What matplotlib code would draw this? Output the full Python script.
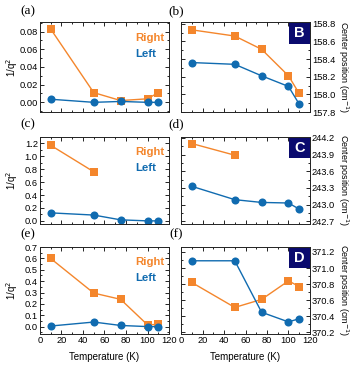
import matplotlib
matplotlib.use("Agg")
import matplotlib.pyplot as plt
from matplotlib.ticker import MultipleLocator, FormatStrFormatter
from matplotlib.patches import Rectangle

temps = [10, 50, 75, 100, 110]

a_right = [0.083, 0.011, 0.002, 0.004, 0.011]
a_left = [0.0035, 0.0, 0.001, 0.0, 0.0]
b_right = [158.73, 158.66, 158.51, 158.21, 158.01]
b_left = [158.36, 158.34, 158.21, 158.09, 157.89]

c_temps_right = [10, 50]
c_right = [1.17, 0.76]
c_left = [0.124, 0.09, 0.016, 0.0, 0.0]
d_right = [244.10, 243.89]
d_left = [243.33, 243.09, 243.04, 243.03, 242.92]

e_right = [0.60, 0.295, 0.24, 0.015, 0.02]
e_left = [0.005, 0.04, 0.01, 0.0, 0.0]
f_right = [370.82, 370.51, 370.61, 370.84, 370.77]
f_left = [371.09, 371.09, 370.45, 370.33, 370.37]

ORANGE = "#F4862C"
BLUE = "#106BB0"
NAVY = "#0A0A6E"

plt.rcParams['font.family'] = ['Liberation Sans', 'DejaVu Sans']
fig = plt.figure(figsize=(3.53, 3.65), dpi=100)

rows = [(0.693, 0.940), (0.386, 0.625), (0.085, 0.323)]
cols = [(0.113, 0.479), (0.513, 0.878)]

left_data = [
    (temps, a_right, temps, a_left, (-0.011, 0.091), 0.02, 0.01, "%.2f", "(a)"),
    (c_temps_right, c_right, temps, c_left, (-0.05, 1.30), 0.2, 0.1, "%.1f", "(c)"),
    (temps, e_right, temps, e_left, (-0.065, 0.70), 0.1, 0.05, "%.1f", "(e)"),
]
right_data = [
    (temps, b_right, temps, b_left, (157.80, 158.82), 0.2, 0.1, "%.1f", "(b)", "B"),
    (c_temps_right, d_right, temps, d_left, (242.65, 244.22), 0.3, 0.15, "%.1f", "(d)", "C"),
    (temps, f_right, temps, f_left, (370.18, 371.26), 0.2, 0.1, "%.1f", "(f)", "D"),
]

def style(ax, ylim, major, minor, fmt, right=False, bottom_labels=False):
    ax.set_xlim(0, 120)
    ax.set_ylim(*ylim)
    ax.xaxis.set_major_locator(MultipleLocator(20))
    ax.xaxis.set_minor_locator(MultipleLocator(10))
    ax.yaxis.set_major_locator(MultipleLocator(major))
    ax.yaxis.set_minor_locator(MultipleLocator(minor))
    ax.yaxis.set_major_formatter(FormatStrFormatter(fmt))
    ax.tick_params(which='both', direction='in', top=True, right=True, left=True, bottom=True,
                   labelsize=6.7, pad=1.5, width=0.6)
    ax.tick_params(which='major', length=3)
    ax.tick_params(which='minor', length=1.6)
    if right:
        ax.tick_params(labelleft=False, labelright=True)
    ax.tick_params(labelbottom=bottom_labels)
    for s in ax.spines.values():
        s.set_linewidth(0.7)
        s.set_color('#222222')

for i, (bot, top) in enumerate(rows):
    # left column
    xr, yr, xl, yl, ylim, mj, mn, fmt, lab = left_data[i]
    ax = fig.add_axes([cols[0][0], bot, cols[0][1] - cols[0][0], top - bot])
    ax.plot(xr, yr, '-s', color=ORANGE, ms=5.2, lw=1.0, mew=0)
    ax.plot(xl, yl, '-o', color=BLUE, ms=5.8, lw=1.0, mew=0)
    style(ax, ylim, mj, mn, fmt, right=False, bottom_labels=(i == 2))
    ax.set_ylabel("1/q$^2$", fontsize=7, va='center')
    ax.yaxis.set_label_coords(-0.215, 0.5)
    ax.text(0.736, 0.79, "Right", color=ORANGE, fontsize=8.2, fontweight='bold',
            transform=ax.transAxes, ha='left', va='baseline')
    ax.text(0.736, 0.61, "Left", color=BLUE, fontsize=8.2, fontweight='bold',
            transform=ax.transAxes, ha='left', va='baseline')
    if i == 2:
        ax.set_xlabel("Temperature (K)", fontsize=7, labelpad=5)
    # right column
    xr, yr, xl, yl, ylim, mj, mn, fmt, lab2, box = right_data[i]
    ax2 = fig.add_axes([cols[1][0], bot, cols[1][1] - cols[1][0], top - bot])
    ax2.plot(xr, yr, '-s', color=ORANGE, ms=5.2, lw=1.0, mew=0)
    ax2.plot(xl, yl, '-o', color=BLUE, ms=5.8, lw=1.0, mew=0)
    style(ax2, ylim, mj, mn, fmt, right=True, bottom_labels=(i == 2))
    ax2.yaxis.set_label_position('right')
    ax2.set_ylabel("Center position (cm$^{-1}$)", fontsize=6.5, rotation=270, va='center')
    ax2.yaxis.set_label_coords(1.255, 0.5)
    ax2.add_patch(Rectangle((0.835, 0.76), 0.165, 0.225, transform=ax2.transAxes,
                            facecolor=NAVY, edgecolor='none', zorder=5))
    ax2.text(0.9175, 0.872, box, color='white', fontsize=10.5, fontweight='bold',
             transform=ax2.transAxes, ha='center', va='center', zorder=6)
    if i == 2:
        ax2.set_xlabel("Temperature (K)", fontsize=7, labelpad=5)
    # panel labels
    ytxt = top + (0.029 if i == 0 else 0.035)
    fig.text(28 / 353, ytxt, lab, family='Liberation Serif', fontsize=9.5, ha='center', va='center')
    fig.text(176 / 353, ytxt, lab2, family='Liberation Serif', fontsize=9.5, ha='center', va='center')

fig.savefig("out.png", dpi=100)
